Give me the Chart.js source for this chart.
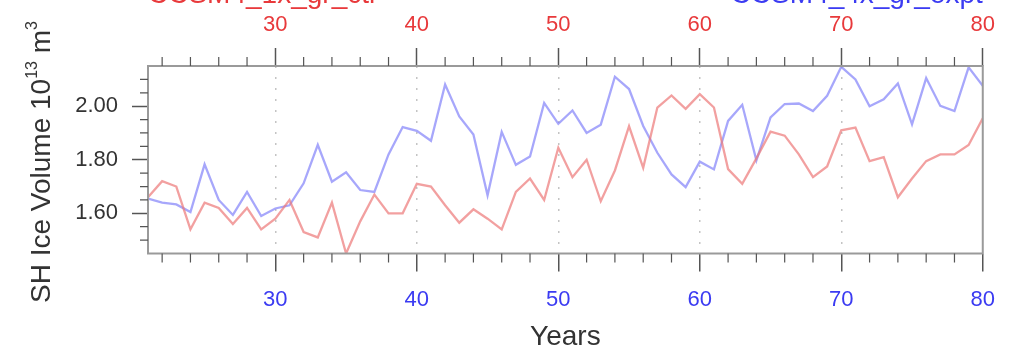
<!DOCTYPE html>
<html>
<head>
<meta charset="utf-8">
<script src="https://cdn.jsdelivr.net/npm/chart.js@4/dist/chart.umd.min.js"></script>
<style>
  html, body { margin: 0; padding: 0; background: #ffffff; }
  #wrap { width: 1010px; height: 350px; position: relative; }
</style>
</head>
<body>
<div id="wrap"><canvas id="chart" width="1010" height="350"></canvas></div>
<script>
// Model years shown on both x axes
const years = [21, 22, 23, 24, 25, 26, 27, 28, 29, 30,
               31, 32, 33, 34, 35, 36, 37, 38, 39, 40,
               41, 42, 43, 44, 45, 46, 47, 48, 49, 50,
               51, 52, 53, 54, 55, 56, 57, 58, 59, 60,
               61, 62, 63, 64, 65, 66, 67, 68, 69, 70,
               71, 72, 73, 74, 75, 76, 77, 78, 79, 80];

// Southern Hemisphere ice volume (10^13 m^3), run plotted against the top axis
const redVolume = [1.66, 1.72, 1.70, 1.54, 1.64, 1.62, 1.56, 1.62, 1.54, 1.58,
                   1.65, 1.53, 1.51, 1.64, 1.45, 1.57, 1.67, 1.60, 1.60, 1.71,
                   1.70, 1.63, 1.565, 1.615, 1.58, 1.54, 1.68, 1.73, 1.65, 1.845,
                   1.735, 1.80, 1.645, 1.76, 1.925, 1.77, 1.995, 2.04, 1.99, 2.045,
                   1.995, 1.765, 1.71, 1.805, 1.905, 1.89, 1.82, 1.735, 1.775, 1.91,
                   1.92, 1.795, 1.81, 1.66, 1.73, 1.795, 1.82, 1.82, 1.855, 1.955];

// Run plotted against the bottom axis
const blueVolume = [1.655, 1.64, 1.633, 1.605, 1.783, 1.65, 1.594, 1.68, 1.59, 1.618,
                    1.63, 1.712, 1.856, 1.718, 1.753, 1.687, 1.68, 1.82, 1.922, 1.908,
                    1.871, 2.081, 1.962, 1.894, 1.667, 1.904, 1.781, 1.812, 2.012, 1.934,
                    1.984, 1.90, 1.931, 2.11, 2.064, 1.926, 1.826, 1.745, 1.698, 1.793,
                    1.764, 1.945, 2.005, 1.798, 1.958, 2.008, 2.01, 1.982, 2.039, 2.147,
                    2.10, 2.00, 2.026, 2.085, 1.932, 2.105, 2.001, 1.982, 2.145, 2.076];

const xTickValues = [30, 40, 50, 60, 70, 80];
const xMinorValues = [22, 24, 26, 28, 32, 34, 36, 38, 42, 44, 46, 48,
                      52, 54, 56, 58, 62, 64, 66, 68, 72, 74, 76, 78];
const yTickValues = [1.60, 1.80, 2.00];
const yMinorValues = [1.50, 1.55, 1.65, 1.70, 1.75, 1.85, 1.90, 1.95, 2.05, 2.10];

const redTitle = 'CCSM4_1x_gr_ctl';
const blueTitle = 'CCSM4_4x_gr_expt';
const xTitle = 'Years';

const RED = '#e8393b';
const BLUE = '#3b3bf2';
const TEXT = '#333333';
const TICK = '#555555';
const FONT = "'Liberation Sans', Arial, Helvetica, sans-serif";

const toPoints = (vals) => years.map((yr, i) => ({ x: yr, y: vals[i] }));

// Frame, minor ticks, titles
const decorations = {
  id: 'decorations',
  afterDraw(chart) {
    const { ctx, chartArea: a, scales } = chart;
    ctx.save();

    // plot frame
    ctx.strokeStyle = '#9a9a9a';
    ctx.lineWidth = 2;
    ctx.strokeRect(a.left, a.top, a.right - a.left, a.bottom - a.top);

    // minor ticks (outward)
    ctx.strokeStyle = TICK;
    ctx.lineWidth = 1.2;
    ctx.beginPath();
    xMinorValues.forEach(v => {
      const px = scales.x.getPixelForValue(v);
      ctx.moveTo(px, a.bottom); ctx.lineTo(px, a.bottom + 9);
      const pt = scales.x2.getPixelForValue(v);
      ctx.moveTo(pt, a.top); ctx.lineTo(pt, a.top - 9);
    });
    yMinorValues.forEach(v => {
      const py = scales.y.getPixelForValue(v);
      ctx.moveTo(a.left, py); ctx.lineTo(a.left - 8, py);
    });
    ctx.stroke();

    // x axis title
    ctx.fillStyle = TEXT;
    ctx.font = `28px ${FONT}`;
    ctx.textAlign = 'center';
    ctx.textBaseline = 'alphabetic';
    ctx.fillText(xTitle, (a.left + a.right) / 2, 345);

    // y axis title with superscripts, rotated
    const parts = [
      { t: 'SH Ice Volume 10', s: 28, dy: 0 },
      { t: '13', s: 16, dy: -13 },
      { t: ' m', s: 28, dy: 0 },
      { t: '3', s: 16, dy: -13 }
    ];
    let total = 0;
    parts.forEach(p => { ctx.font = `${p.s}px ${FONT}`; p.w = ctx.measureText(p.t).width; total += p.w; });
    ctx.translate(50, 162);
    ctx.rotate(-Math.PI / 2);
    ctx.textAlign = 'left';
    let cx = -total / 2;
    parts.forEach(p => {
      ctx.font = `${p.s}px ${FONT}`;
      ctx.fillText(p.t, cx, p.dy);
      cx += p.w;
    });
    ctx.setTransform(1, 0, 0, 1, 0, 0);

    // run titles above the top axis (mostly beyond the canvas edge)
    ctx.font = `28px ${FONT}`;
    ctx.textBaseline = 'alphabetic';
    ctx.textAlign = 'left';
    ctx.fillStyle = RED;
    ctx.fillText(redTitle, a.left, 3);
    ctx.textAlign = 'right';
    ctx.fillStyle = BLUE;
    ctx.fillText(blueTitle, a.right, 3);

    ctx.restore();
  }
};

new Chart(document.getElementById('chart'), {
  type: 'line',
  data: {
    datasets: [
      {
        label: redTitle,
        data: toPoints(redVolume),
        xAxisID: 'x2',
        yAxisID: 'y',
        borderColor: 'rgba(236, 120, 120, 0.7)',
        borderWidth: 2.3,
        pointRadius: 0,
        tension: 0,
        fill: false
      },
      {
        label: blueTitle,
        data: toPoints(blueVolume),
        xAxisID: 'x',
        yAxisID: 'y',
        borderColor: 'rgba(130, 130, 250, 0.7)',
        borderWidth: 2.3,
        pointRadius: 0,
        tension: 0,
        fill: false
      }
    ]
  },
  options: {
    responsive: false,
    animation: false,
    devicePixelRatio: 1,
    layout: { padding: { left: 0, right: 18, top: 0, bottom: 0 } },
    plugins: {
      legend: { display: false },
      tooltip: { enabled: false },
      title: { display: false }
    },
    scales: {
      x: {
        type: 'linear',
        position: 'bottom',
        min: 21,
        max: 80,
        afterBuildTicks: s => { s.ticks = xTickValues.map(v => ({ value: v })); },
        afterFit: s => { s.height = 96.5; },
        ticks: {
          color: BLUE,
          font: { size: 22, family: FONT },
          padding: 15,
          maxRotation: 0,
          autoSkip: false,
          callback: v => String(v)
        },
        grid: {
          display: true,
          drawOnChartArea: true,
          drawTicks: true,
          tickLength: 18,
          tickColor: TICK,
          tickWidth: 1.5,
          lineWidth: 1.5,
          color: ctx => (ctx.tick && ctx.tick.value < 80) ? '#c4c4c4' : 'rgba(0,0,0,0)',
          borderDash: [2, 9]
        },
        border: { display: false, dash: [2, 9] }
      },
      x2: {
        type: 'linear',
        position: 'top',
        min: 21,
        max: 80,
        afterBuildTicks: s => { s.ticks = xTickValues.map(v => ({ value: v })); },
        afterFit: s => { s.height = 66; },
        ticks: {
          color: RED,
          font: { size: 22, family: FONT },
          padding: 10,
          maxRotation: 0,
          autoSkip: false,
          callback: v => String(v)
        },
        grid: {
          display: true,
          drawOnChartArea: false,
          drawTicks: true,
          tickLength: 18,
          tickColor: TICK,
          tickWidth: 1.5
        },
        border: { display: false }
      },
      y: {
        type: 'linear',
        position: 'left',
        min: 1.45,
        max: 2.15,
        afterBuildTicks: s => { s.ticks = yTickValues.map(v => ({ value: v })); },
        afterFit: s => { s.width = 148; },
        ticks: {
          color: TEXT,
          font: { size: 22, family: FONT },
          padding: 14,
          callback: v => Number(v).toFixed(2)
        },
        grid: {
          display: true,
          drawOnChartArea: false,
          drawTicks: true,
          tickLength: 16,
          tickColor: TICK,
          tickWidth: 1.5
        },
        border: { display: false }
      }
    }
  },
  plugins: [decorations]
});
</script>
</body>
</html>
